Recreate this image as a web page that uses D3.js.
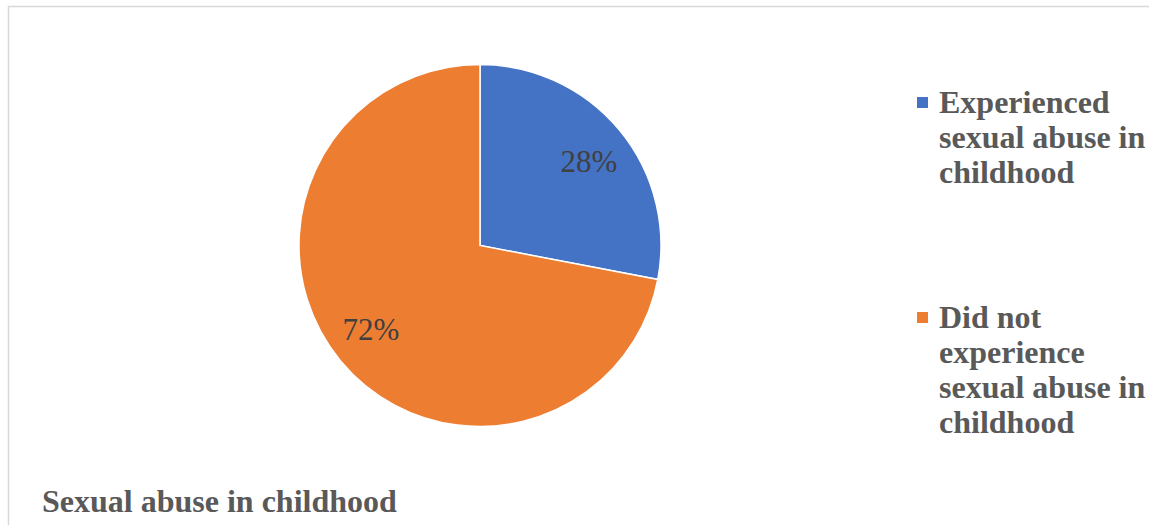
<!DOCTYPE html>
<html>
<head>
<meta charset="utf-8">
<script src="https://cdn.jsdelivr.net/npm/d3@7/dist/d3.min.js"></script>
<style>
  html, body { margin: 0; padding: 0; background: #fff; }
  svg { display: block; }
  text { font-family: "Liberation Serif", "Times New Roman", serif; }
</style>
</head>
<body>
<svg id="chart" width="1149" height="525"></svg>
<script>
// Share of respondents by childhood sexual abuse experience
const categories = ["Experienced sexual abuse in childhood", "Did not experience sexual abuse in childhood"];
const legendLines = [
  ["Experienced", "sexual abuse in", "childhood"],
  ["Did not", "experience", "sexual abuse in", "childhood"]
];
const values = [28, 72];
const colors = ["#4472C4", "#ED7D31"];
const chartTitle = "Sexual abuse in childhood";

const svg = d3.select("#chart");
const W = 1149, H = 525;

// chart frame
svg.append("rect")
  .attr("x", 8.5).attr("y", 6.5)
  .attr("width", W + 10).attr("height", H + 10)
  .attr("fill", "#fff")
  .attr("stroke", "#d9d9d9")
  .attr("stroke-width", 1.5);

const cx = 480, cy = 245.5, R = 181;
const data = categories.map((c, i) => ({ name: c, value: values[i], color: colors[i] }));

const pie = d3.pie().sort(null).value(d => d.value);
const arc = d3.arc().innerRadius(0).outerRadius(R);
const labelArc = d3.arc().innerRadius(R * 0.76).outerRadius(R * 0.76);
const labelTurn = 0.035; // data labels sit slightly clockwise of the slice middle

const g = svg.append("g").attr("transform", `translate(${cx},${cy})`);
const arcs = pie(data);

g.selectAll("path.slice")
  .data(arcs)
  .enter().append("path")
  .attr("class", "slice")
  .attr("d", arc)
  .attr("fill", d => d.data.color)
  .attr("stroke", "#fff")
  .attr("stroke-width", 1.5);

const total = d3.sum(values);
g.selectAll("text.lbl")
  .data(arcs)
  .enter().append("text")
  .attr("class", "lbl")
  .attr("transform", d => `translate(${labelArc.centroid({
    startAngle: d.startAngle + labelTurn,
    endAngle: d.endAngle + labelTurn
  })})`)
  .attr("text-anchor", "middle")
  .attr("dy", "0.35em")
  .attr("font-size", 31)
  .attr("fill", "#404040")
  .text(d => Math.round(d.data.value / total * 100) + "%");

// legend
const legendX = 917, lineH = 35;
const legendTops = [113, 328];
const lg = svg.append("g");
data.forEach((d, i) => {
  const base = legendTops[i];
  lg.append("rect")
    .attr("x", legendX).attr("y", base - 16)
    .attr("width", 11).attr("height", 11)
    .attr("fill", d.color);
  const t = lg.append("text")
    .attr("font-weight", "bold")
    .attr("font-size", 32)
    .attr("fill", "#595959");
  legendLines[i].forEach((line, j) => {
    t.append("tspan")
      .attr("x", legendX + 22)
      .attr("y", base + j * lineH)
      .text(line);
  });
});

// title
svg.append("text")
  .attr("x", 42).attr("y", 512)
  .attr("font-weight", "bold")
  .attr("font-size", 32)
  .attr("fill", "#595959")
  .text(chartTitle);
</script>
</body>
</html>
